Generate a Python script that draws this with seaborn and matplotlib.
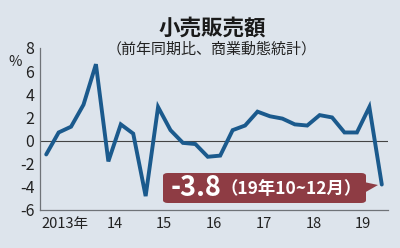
import matplotlib
matplotlib.use("Agg")
import matplotlib.pyplot as plt
import seaborn as sns
import pandas as pd
import numpy as np
from matplotlib.patches import FancyBboxPatch, Polygon

# ---- data ----
years = [2013, 2014, 2015, 2016, 2017, 2018, 2019]
quarters = [1, 2, 3, 4]
values = [-1.2, 0.7, 1.2, 3.1, 6.6,
          -1.8, 1.4, 0.6, -4.8,
          2.9, 0.9, -0.2, -0.3,
          -1.4, -1.3, 0.9, 1.3,
          2.5, 2.1, 1.9, 1.4,
          1.3, 2.2, 2.0, 0.7,
          0.7, 2.9, -3.8]
year_labels = ["2013年", "14", "15", "16", "17", "18", "19"]
y_ticks = [-6, -4, -2, 0, 2, 4, 6, 8]
title = "小売販売額"
subtitle = "（前年同期比、商業動態統計）"
last_value_label = "-3.8"
last_period_label = "（19年10~12月）"

xpos = [y + (q - 0.5) / 4 for y in years for q in quarters]
df = pd.DataFrame({"x": xpos, "value": values})

BG = "#dde4ec"
LINE = "#1b5a8d"
BOX = "#8e3c44"
AX = "#6f7378"

sns.set_theme(style="white")
plt.rcParams["font.family"] = ["Noto Sans CJK JP", "DejaVu Sans"]

fig = plt.figure(figsize=(4.0, 2.48), dpi=100, facecolor=BG)
ax = fig.add_axes([40 / 400, 1 - 210 / 248, 348 / 400, (210 - 48) / 248])
ax.set_facecolor(BG)

ax.axhline(0, color="#444444", lw=0.8, zorder=1)
sns.lineplot(data=df, x="x", y="value", ax=ax, color=LINE, lw=2.8,
             zorder=3, solid_joinstyle="miter")

ax.set_xlim(2013, 2020)
ax.set_ylim(-6, 8)
ax.set_xlabel("")
ax.set_ylabel("")

for s in ["top", "right"]:
    ax.spines[s].set_visible(False)
for s in ["left", "bottom"]:
    ax.spines[s].set_color(AX)
    ax.spines[s].set_linewidth(0.9)

ax.set_yticks(y_ticks)
ax.set_yticklabels([str(v) for v in y_ticks])
ax.tick_params(axis="y", direction="in", length=5, width=0.9, color=AX,
               labelsize=11.5, labelcolor="#222222", pad=4)

ax.set_xticks(years[1:])
ax.set_xticklabels([])
ax.set_xticks([y + 0.5 for y in years], minor=True)
ax.set_xticklabels(year_labels, minor=True)
ax.tick_params(axis="x", which="major", direction="out", length=4,
               width=0.9, color=AX)
ax.tick_params(axis="x", which="minor", length=0, labelsize=10.5,
               labelcolor="#222222", pad=5)

fig.text(15 / 400, 1 - 62 / 248, "%", fontsize=10.5, color="#222222",
         ha="center", va="center")
fig.text(212 / 400, 1 - 28 / 248, title, fontsize=15.5, fontweight="bold",
         color="#1a1a1a", ha="center", va="center")
fig.text(212 / 400, 1 - 49 / 248, subtitle, fontsize=10.8, color="#222222",
         ha="center", va="center")

# callout box
bx0, bx1, by0, by1 = 163, 366, 173, 203
box = FancyBboxPatch((bx0 / 400, 1 - by1 / 248), (bx1 - bx0) / 400,
                     (by1 - by0) / 248,
                     boxstyle="round,pad=0,rounding_size=0.012",
                     transform=fig.transFigure, facecolor=BOX,
                     edgecolor="none", zorder=5)
fig.patches.append(box)
tri = Polygon([(364 / 400, 1 - 182 / 248), (364 / 400, 1 - 193 / 248),
               (378 / 400, 1 - 185 / 248)], closed=True,
              transform=fig.transFigure, facecolor=BOX, edgecolor="none",
              zorder=5)
fig.patches.append(tri)
fig.text(171 / 400, 1 - 188 / 248, last_value_label, fontsize=19.5,
         fontweight="bold", color="white", ha="left", va="center", zorder=6)
fig.text(221 / 400, 1 - 189 / 248, last_period_label, fontsize=12.5,
         fontweight="bold", color="white", ha="left", va="center", zorder=6)

fig.savefig("out.png", dpi=100, facecolor=BG)
